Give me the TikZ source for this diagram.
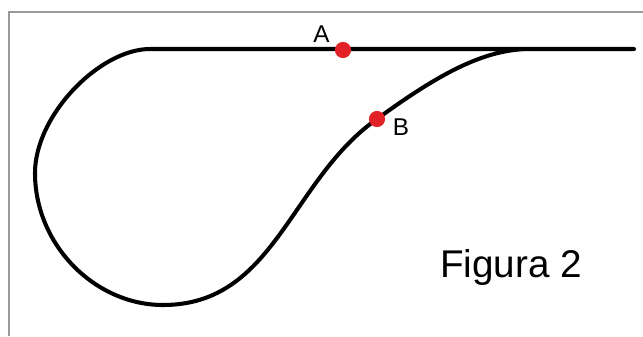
\documentclass[tikz,border=0pt]{standalone}
\usepackage{fontspec}
\setmainfont{Liberation Sans}
\usepackage{tikz}
\usetikzlibrary{positioning}
\definecolor{dotred}{HTML}{E32227}
\definecolor{framegray}{HTML}{9A9A9A}

\begin{document}
\begin{tikzpicture}[
    x=0.02cm, y=-0.02cm,
    track/.style={draw=black, line width=2.3pt, line cap=round},
    dot/.style={circle, fill=dotred, minimum size=9.2pt, inner sep=0pt},
    lbl/.style={font=\fontsize{13.8}{16}\selectfont, inner sep=0pt},
    title/.style={font=\fontsize{22}{26}\selectfont, inner sep=0pt}
]
    \useasboundingbox (0,0) rectangle (643,336);
    \draw[framegray, line width=0.6pt] (643,12) -- (9,12) -- (9,336);

    \draw[track] (634,49) -- (150,49)
        .. controls (100,49) and (35,115) .. (35,173)
        .. controls (35,245) and (95,305) .. (163,305)
        .. controls (275,305) and (290,180) .. (377,119)
        .. controls (440,73) and (485,49) .. (530,49);

    \node[dot] (ptA) at (343,50) {};
    \node[dot] (ptB) at (377,119) {};
    \node[lbl, above left=0.5pt and 4pt of ptA] (labA) {A};
    \node[lbl, right=4pt of ptB, yshift=-4.5pt] (labB) {B};
    \node[title, anchor=base] (fig) at (511,277) {Figura 2};
\end{tikzpicture}
\end{document}
